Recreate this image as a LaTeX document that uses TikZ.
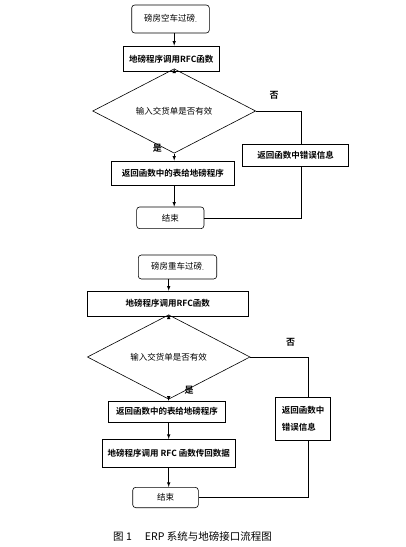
\documentclass[tikz,border=0pt]{standalone}
\usepackage{fontspec}
\setmainfont{Noto Sans CJK SC}[BoldFont={Noto Sans CJK SC Bold}]
\usetikzlibrary{shapes.geometric}

\begin{document}
\begin{tikzpicture}[x=1pt,y=-1pt,line width=.6pt,>=latex,
		font=\fontsize{8.5}{10}\selectfont,
		startbox/.style={draw,rounded corners=3pt,inner sep=0pt},
		procbox/.style={draw,inner sep=0pt,font=\fontsize{8.5}{10}\selectfont\bfseries},
		testbox/.style={draw,diamond,inner sep=0pt},
		yesno/.style={font=\fontsize{9}{10}\selectfont\bfseries}]
	\useasboundingbox (0,0) rectangle (405,547);
	% empty truck
	\node[startbox,minimum width=77.6pt,minimum height=28pt] (s1) at (170.5,19) {磅房空车过磅\raisebox{-1.5pt}{\tiny -}};
	\node[procbox,minimum width=96pt,minimum height=25.7pt] (c1) at (171.3,58.8) {地磅程序调用RFC函数};
	\node[testbox,minimum width=163pt,minimum height=49.7pt] (d1) at (174.2,111) {输入交货单是否有效};
	\node[procbox,minimum width=106.4pt,minimum height=22pt] (r1) at (295.5,155) {返回函数中错误信息};
	\node[procbox,minimum width=122.3pt,minimum height=24.7pt] (b1) at (172.9,173.3) {返回函数中的表给地磅程序};
	\node[startbox,minimum width=67.3pt,minimum height=21.7pt] (e1) at (170.3,217.8) {结束};
	\node[yesno] (n1) at (274,95.7) {否};
	\node[yesno] (y1) at (157.3,148.3) {是};
	\draw[->] (s1.south -| d1.north) -- (c1.north -| d1.north);
	\draw[->] (c1.south -| d1.north) -- (d1.north);
	\draw[->] (d1.south) -- (b1.north -| d1.south);
	\draw[->] (b1.south -| d1.south) -- (e1.north -| d1.south);
	\draw (d1.east) -| ([xshift=6.2pt]r1.north);
	\draw ([xshift=6.2pt]r1.south) |- (e1.east);
	% loaded truck
	\node[startbox,minimum width=78.4pt,minimum height=24pt] (s2) at (177.5,267) {磅房重车过磅\raisebox{-1.5pt}{\tiny -}};
	\node[procbox,minimum width=161pt,minimum height=25pt] (c2) at (167.8,303.5) {地磅程序调用RFC函数};
	\node[testbox,minimum width=162.7pt,minimum height=49.4pt] (d2) at (168.7,357) {输入交货单是否有效};
	\node[procbox,minimum width=55.4pt,minimum height=42.3pt,align=left] (r2) at (303,418.8) {返回函数中\\[7pt]错误信息};
	\node[procbox,minimum width=117.4pt,minimum height=21.3pt] (b2) at (167,411.7) {返回函数中的表给地磅程序};
	\node[procbox,minimum width=132.3pt,minimum height=28pt] (b3) at (168.8,453.3) {地磅程序调用 RFC 函数传回数据};
	\node[startbox,minimum width=65.6pt,minimum height=20.4pt] (e2) at (165.5,497.5) {结束};
	\node[yesno] (n2) at (290.7,342.3) {否};
	\node[yesno] (y2) at (189,390.7) {是};
	\draw[->] (s2.south -| d2.north) -- (c2.north -| d2.north);
	\draw[->] (c2.south -| d2.north) -- (d2.north);
	\draw[->] (d2.south) -- (b2.north -| d2.south);
	\draw[->] (b2.south -| d2.south) -- (b3.north -| d2.south);
	\draw[->] (b3.south -| d2.south) -- (e2.north -| d2.south);
	\draw (d2.east) -| ([xshift=5.7pt]r2.north);
	\draw ([xshift=5.7pt]r2.south) |- (e2.east);
	% caption
	\node[font=\fontsize{10.5}{12}\selectfont] (cap) at (192.5,536) {图 1\hspace{13pt}ERP 系统与地磅接口流程图};
\end{tikzpicture}
\end{document}
